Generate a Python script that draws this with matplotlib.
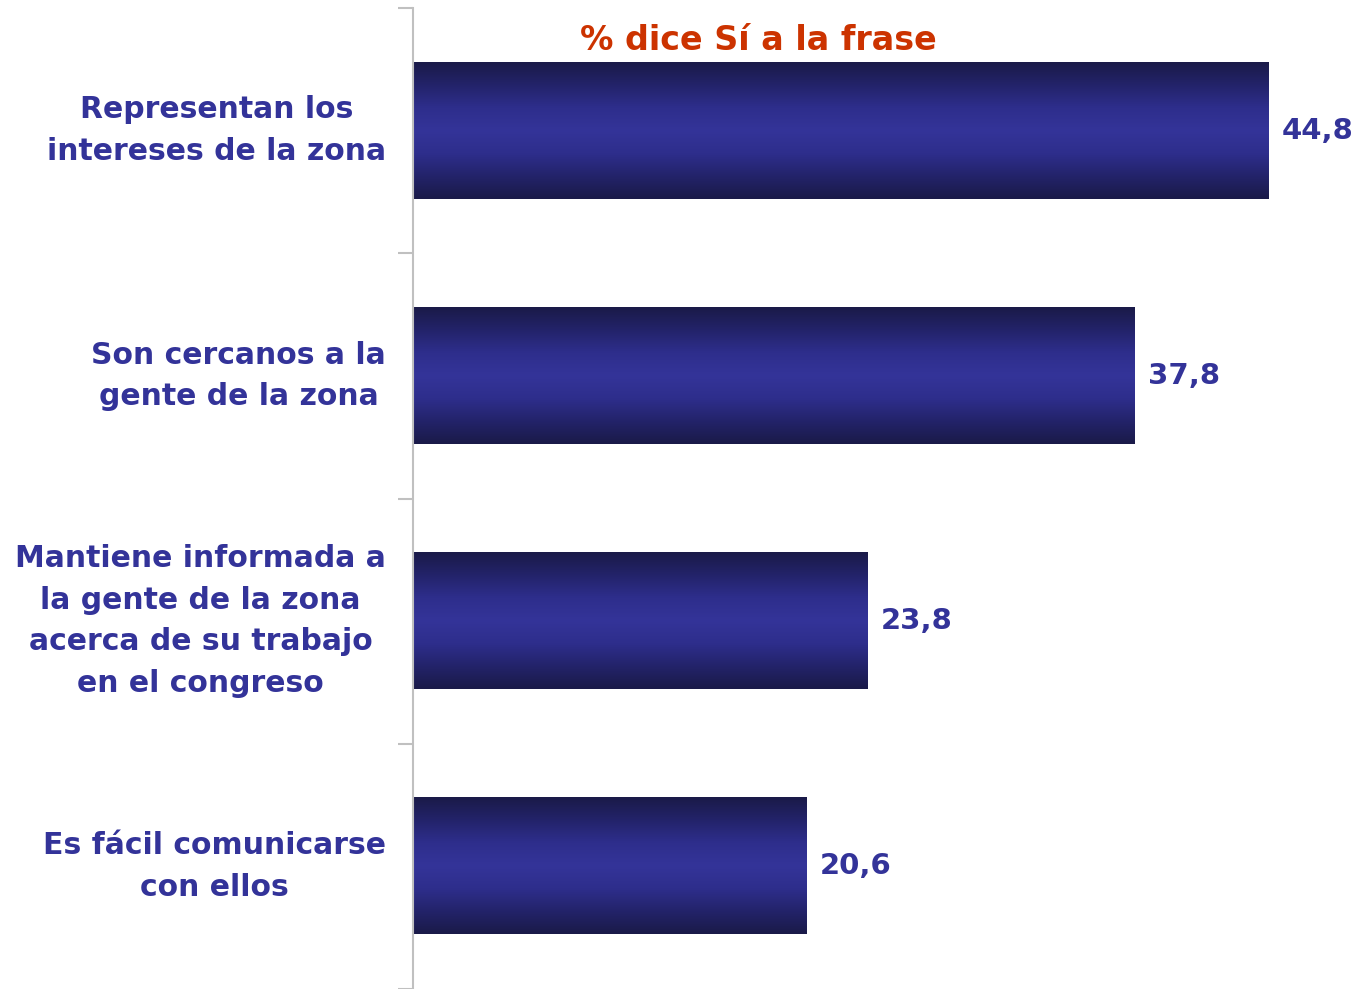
import numpy as np
import matplotlib.pyplot as plt
from matplotlib.colors import LinearSegmentedColormap
from matplotlib.transforms import blended_transform_factory

# data
categories = [
    "Representan los\nintereses de la zona",
    "Son cercanos a la\ngente de la zona",
    "Mantiene informada a\nla gente de la zona\nacerca de su trabajo\nen el congreso",
    "Es fácil comunicarse\ncon ellos",
]
values = [44.8, 37.8, 23.8, 20.6]
value_labels = ["44,8", "37,8", "23,8", "20,6"]
title = "% dice Sí a la frase"

text_col = "#333399"
grad = LinearSegmentedColormap.from_list(
    "bar", ["#1a1a48", "#23236a", "#2e2e8c", "#343499", "#2e2e8c", "#23236a", "#1a1a48"])

fig = plt.figure(figsize=(13.58, 9.89), dpi=100)
ax = fig.add_axes([413 / 1358, 0.0, 1 - 413 / 1358, 1 - 8 / 989])

h = 0.555
gy = np.linspace(0, 1, 256).reshape(-1, 1)
for i, v in enumerate(values):
    ax.imshow(gy, cmap=grad, aspect="auto", interpolation="bilinear",
              extent=(0, v, i + h / 2, i - h / 2), zorder=2)
    ax.text(v + 0.7, i, value_labels[i], ha="left", va="center",
            fontsize=21, fontweight="bold", color=text_col)
ax.set_ylim(len(values) - 0.5, -0.5)
ax.set_xlim(0, 49.5)

for s in ["top", "right", "bottom"]:
    ax.spines[s].set_visible(False)
ax.spines["left"].set_color("#c0c0c0")
ax.spines["left"].set_linewidth(1.5)
ax.spines["left"].set_zorder(3)

ax.set_xticks([])
ax.set_yticks(np.arange(len(values) + 1) - 0.5)
ax.set_yticklabels([])
ax.tick_params(axis="y", length=11, width=1.5, color="#c0c0c0", direction="out")

# category labels, centred block whose right edge sits at x=386 px
trans = blended_transform_factory(fig.transFigure, ax.transData)
for i, c in enumerate(categories):
    ax.text(386 / 1358, i, c, ha="right", va="center", multialignment="center",
            fontsize=21.5, fontweight="bold", color=text_col, linespacing=1.55,
            transform=trans, clip_on=False)

fig.text(758 / 1358, 1 - 40 / 989, title, ha="center", va="center",
         fontsize=24, fontweight="bold", color="#cc3300")

fig.savefig("out.png", dpi=100)
